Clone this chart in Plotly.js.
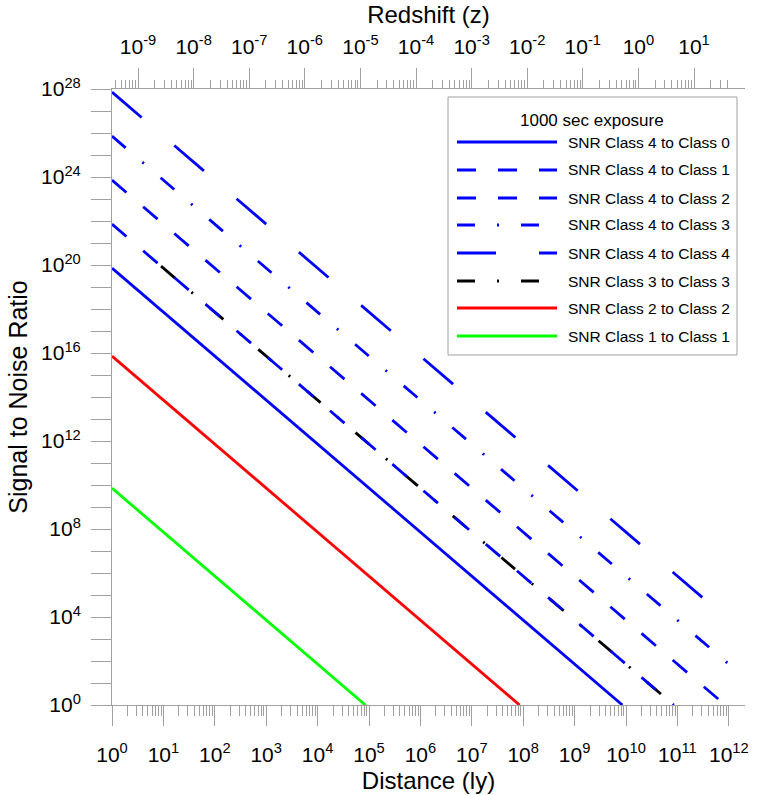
<!DOCTYPE html>
<html><head><meta charset="utf-8">
<script src="https://cdn.plot.ly/plotly-3.0.1.min.js"></script>
<style>html,body{margin:0;padding:0;background:#fff;}</style>
</head><body>
<div id="chart" style="width:780px;height:795px;"></div>
<script>
// ---- Data (endpoints of straight log-log lines) ----
const legendTitle = "1000 sec exposure";
const seriesNames = [
  "SNR Class 4 to Class 0", "SNR Class 4 to Class 1", "SNR Class 4 to Class 2",
  "SNR Class 4 to Class 3", "SNR Class 4 to Class 4", "SNR Class 3 to Class 3",
  "SNR Class 2 to Class 2", "SNR Class 1 to Class 1"
];
const dist_4to0 = [1, 8.5e9];   const snr_4to0 = [7.2e19, 1];
const dist_4to1 = [1, 8.5e10];  const snr_4to1 = [7.2e21, 1];
const dist_4to2 = [1, 8.5e11];  const snr_4to2 = [7.2e23, 1];
const dist_4to3 = [1, 1e12];    const snr_4to3 = [7.2e25, 72];
const dist_4to4 = [1, 1e12];    const snr_4to4 = [7.2e27, 7200];
const dist_3to3 = [9, 6.5e10];  const snr_3to3 = [8.9e19, 1.7];
const dist_2to2 = [1, 8.5e7];   const snr_2to2 = [7.2e15, 1];
const dist_1to1 = [1, 8.5e4];   const snr_1to1 = [7.2e9, 1];

// tick labels
const distTickExp = [0,1,2,3,4,5,6,7,8,9,10,11,12];
const zTickExp = [-9,-8,-7,-6,-5,-4,-3,-2,-1,0,1];
const snrLabelExp = [0,4,8,12,16,20,24,28];
const snrMinorExp = [1,2,3,5,6,7,9,10,11,13,14,15,17,18,19,21,22,23,25,26,27];

// ---- styles ----
const colors = ["#0000ff","#0000ff","#0000ff","#0000ff","#0000ff","#000000","#ff0000","#00ff00"];
const dashes = ["solid","19px,22px","19px,22px","18px,22px,2px,22px","39px,43px","18px,22px,2px,22px","solid","solid"];
const xs = [dist_4to0, dist_4to1, dist_4to2, dist_4to3, dist_4to4, dist_3to3, dist_2to2, dist_1to1];
const ys = [snr_4to0, snr_4to1, snr_4to2, snr_4to3, snr_4to4, snr_3to3, snr_2to2, snr_1to1];
// drawing order: black Class 3 line beneath the blue dashes
const drawOrder = [5, 0, 1, 2, 3, 4, 6, 7];

const FONT = "Liberation Sans, Arial, sans-serif";
const AX = "#a0a0a0";
const LW = 2.8;

const traces = drawOrder.map(i => ({
  x: xs[i], y: ys[i], name: seriesNames[i], type: "scatter", mode: "lines",
  line: {color: colors[i], width: LW, dash: dashes[i]},
  showlegend: false, hoverinfo: "x+y+name"
}));
// dummy trace to bind the top redshift axis
traces.push({x: [], y: [], xaxis: "x2", yaxis: "y", showlegend: false, hoverinfo: "skip", type: "scatter", mode: "lines"});

function minorVals(lo, hi) {
  const out = [];
  for (let e = lo; e <= hi; e++) for (let m = 2; m <= 9; m++) out.push(m * Math.pow(10, e));
  return out;
}
const sup = e => "10<sup>" + e + "</sup>";

const M = {l: 112, r: 35, t: 89, b: 90};
const W = 780, H = 795;
const PW = W - M.l - M.r, PH = H - M.t - M.b;
const px = x => (x - M.l) / PW;
const py = y => (H - M.b - y) / PH;

// custom legend (Grapher style, 100px line samples)
const shapes = [{type: "rect", xref: "paper", yref: "paper", x0: px(448), x1: px(737), y0: py(97), y1: py(355),
  line: {color: AX, width: 1}, fillcolor: "#ffffff", layer: "above"}];
const annotations = [{xref: "paper", yref: "paper", x: px(592), y: py(120), text: legendTitle, showarrow: false,
  xanchor: "center", yanchor: "middle", font: {family: FONT, size: 17, color: "#000"}}];
const rowY = [142, 170, 198, 225, 253, 281, 308, 336];
seriesNames.forEach((n, i) => {
  shapes.push({type: "line", xref: "paper", yref: "paper", x0: px(457), x1: px(557), y0: py(rowY[i]), y1: py(rowY[i]),
    line: {color: colors[i], width: LW, dash: dashes[i]}, layer: "above"});
  annotations.push({xref: "paper", yref: "paper", x: px(566), y: py(rowY[i]), text: n, showarrow: false,
    xanchor: "left", yanchor: "middle", font: {family: FONT, size: 15.5, color: "#000"}});
});

const layout = {
  width: W, height: H, margin: M, paper_bgcolor: "#fff", plot_bgcolor: "#fff",
  font: {family: FONT, color: "#000"},
  showlegend: false,
  xaxis: {
    type: "log", range: [0, 12.315], showgrid: false, zeroline: false,
    showline: true, linecolor: AX, linewidth: 1,
    ticks: "outside", ticklen: 20, tickcolor: AX, tickwidth: 1,
    tickmode: "array", tickvals: distTickExp.map(e => Math.pow(10, e)), ticktext: distTickExp.map(sup),
    tickfont: {family: FONT, size: 21, color: "#000"}, ticklabelstandoff: 11,
    minor: {tickmode: "array", tickvals: minorVals(0, 11), ticks: "outside", ticklen: 10, tickcolor: AX, tickwidth: 1, showgrid: false},
    title: {text: "Distance (ly)", font: {family: FONT, size: 24, color: "#000"}, standoff: 6}
  },
  xaxis2: {
    type: "log", range: [-9.468, 1.917], overlaying: "x", side: "top", anchor: "y",
    showgrid: false, zeroline: false, showline: true, linecolor: AX, linewidth: 1,
    ticks: "outside", ticklen: 20, tickcolor: AX, tickwidth: 1,
    tickmode: "array", tickvals: zTickExp.map(e => Math.pow(10, e)), ticktext: zTickExp.map(sup),
    tickfont: {family: FONT, size: 21, color: "#000"}, ticklabelstandoff: 6,
    minor: {tickmode: "array", tickvals: minorVals(-10, 1).filter(v => v < 45 && v > 3.5e-10), ticks: "outside", ticklen: 8, tickcolor: AX, tickwidth: 1, showgrid: false},
    title: {text: "Redshift (z)", font: {family: FONT, size: 24, color: "#000"}, standoff: 1}
  },
  yaxis: {
    type: "log", range: [0, 28], showgrid: false, zeroline: false,
    showline: true, linecolor: AX, linewidth: 1,
    ticks: "outside", ticklen: 20, tickcolor: AX, tickwidth: 1,
    tickmode: "array", tickvals: snrLabelExp.map(e => Math.pow(10, e)), ticktext: snrLabelExp.map(sup),
    tickfont: {family: FONT, size: 21, color: "#000"}, ticklabelstandoff: 6,
    minor: {tickmode: "array", tickvals: snrMinorExp.map(e => Math.pow(10, e)), ticks: "outside", ticklen: 20, tickcolor: AX, tickwidth: 1, showgrid: false},
    title: {text: "Signal to Noise Ratio", font: {family: FONT, size: 25, color: "#000"}, standoff: 6}
  },
  shapes: shapes,
  annotations: annotations
};

Plotly.newPlot("chart", traces, layout, {displayModeBar: false, staticPlot: true});
</script>
</body></html>
